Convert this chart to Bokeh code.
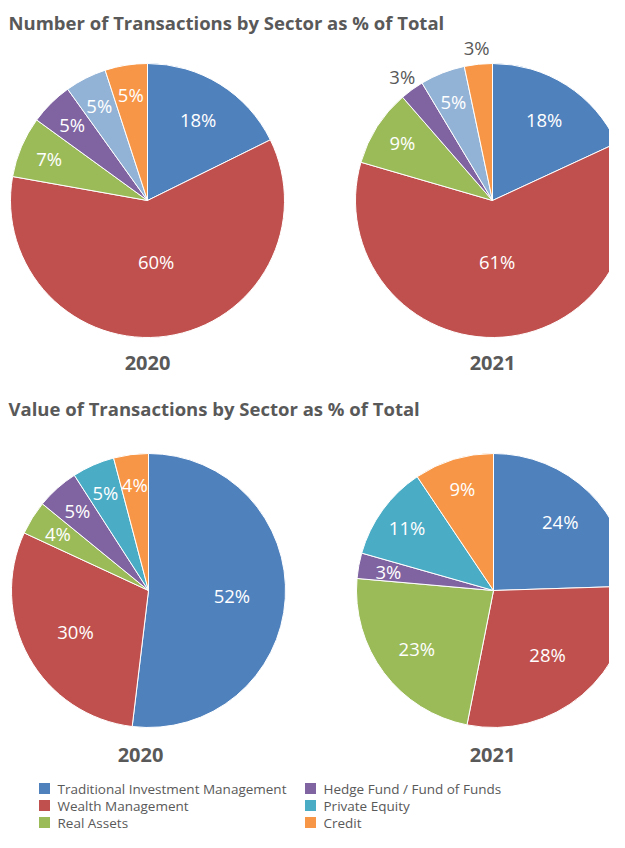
import math
from bokeh.plotting import figure
from bokeh.models import Range1d, ColumnDataSource
from bokeh.core.properties import value
from bokeh.embed import file_html
from bokeh.resources import INLINE

# ---------------- data ----------------
sectors = ["Traditional Investment Management", "Wealth Management", "Real Assets",
           "Hedge Fund / Fund of Funds", "Private Equity", "Credit"]
sector_colors = ["#4f81bd", "#c0504d", "#9bbb59", "#8064a2", "#4bacc6", "#f79646"]
count_colors = ["#4f81bd", "#c0504d", "#9bbb59", "#8064a2", "#93b3d6", "#f79646"]

count_2020 = [17.7, 60.1, 7.2, 5.1, 4.9, 5.0]
count_2020_labels = ["18%", "60%", "7%", "5%", "5%", "5%"]
count_2021 = [18.1, 61.4, 9.1, 2.8, 5.3, 3.3]
count_2021_labels = ["18%", "61%", "9%", "3%", "5%", "3%"]
count_2021_outside = [False, False, False, True, False, True]

value_2020 = [51.9, 30.0, 4.0, 5.0, 5.0, 4.1]
value_2020_labels = ["52%", "30%", "4%", "5%", "5%", "4%"]
value_2021 = [24.5, 28.6, 23.3, 3.0, 11.2, 9.4]
value_2021_labels = ["24%", "28%", "23%", "3%", "11%", "9%"]

title_top = "Number of Transactions by Sector as % of Total"
title_bottom = "Value of Transactions by Sector as % of Total"
years = ["2020", "2021"]

# ---------------- layout ----------------
W, H = 609, 832
FONT = "Open Sans"
GREY = "#595959"
R = 137


def X(px):
    return px


def Y(py):
    return H - py


p = figure(width=W, height=H, output_backend="svg", toolbar_location=None,
           x_range=Range1d(0, W), y_range=Range1d(0, H),
           x_axis_location=None, y_axis_location=None, min_border=0)
p.outline_line_color = None
p.grid.visible = False
p.background_fill_color = "white"


def label_frac(v):
    if v <= 12:
        return 0.78
    if v <= 25:
        return 0.70
    if v <= 55:
        return 0.61
    return 0.45


def draw_pie(cx, cy, vals, labels, colors, outside=None):
    total = sum(vals)
    starts, ends, lx, ly, tc = [], [], [], [], []
    cum = 0.0
    for i, v in enumerate(vals):
        c0 = cum / total
        cum += v
        c1 = cum / total
        starts.append(math.pi / 2 - 2 * math.pi * c1)
        ends.append(math.pi / 2 - 2 * math.pi * c0)
        mid = 2 * math.pi * (c0 + c1) / 2  # clockwise from top
        out = bool(outside and outside[i])
        rl = R * (1.12 if out else label_frac(100 * v / total))
        lx.append(cx + rl * math.sin(mid))
        ly.append(cy + rl * math.cos(mid))
        tc.append(GREY if out else "white")
    src = ColumnDataSource(dict(start=starts, end=ends, color=colors,
                                lx=lx, ly=ly, label=labels, tc=tc))
    p.wedge(x=cx, y=cy, radius=R, start_angle="start", end_angle="end",
            fill_color="color", line_color="white", line_width=1, source=src)
    p.text(x="lx", y="ly", text="label", text_color="tc", source=src,
           text_font=value(FONT), text_font_size="18.5px",
           text_align="center", text_baseline="middle")


draw_pie(X(147), Y(200), count_2020, count_2020_labels, count_colors)
draw_pie(X(492), Y(200), count_2021, count_2021_labels, count_colors, count_2021_outside)
draw_pie(X(148), Y(590), value_2020, value_2020_labels, sector_colors)
draw_pie(X(493), Y(590), value_2021, value_2021_labels, sector_colors)

# titles
p.text(x=[X(8), X(8)], y=[Y(22), Y(408)], text=[title_top, title_bottom],
       text_font=value(FONT), text_font_size="18.5px", text_font_style="bold",
       text_color=GREY, text_align="left", text_baseline="middle")

# year labels
p.text(x=[X(147), X(492), X(140), X(492)], y=[Y(362), Y(362), Y(754), Y(754)],
       text=years + years, text_font=value(FONT), text_font_size="20px",
       text_font_style="bold", text_color=GREY,
       text_align="center", text_baseline="middle")

# legend
col_x = [44, 310]
row_y = [788, 805, 822]
sq_x, sq_y, t_x = [], [], []
for i in range(len(sectors)):
    c = i // 3
    r = i % 3
    sq_x.append(X(col_x[c]))
    sq_y.append(Y(row_y[r]))
    t_x.append(X(col_x[c] + 13))
p.scatter(x=sq_x, y=sq_y, marker="square", size=11, fill_color=sector_colors,
          line_color=None)
p.text(x=t_x, y=sq_y, text=sectors, text_font=value(FONT), text_font_size="13.5px",
       text_color=GREY, text_align="left", text_baseline="middle")

open("out.html", "w").write(file_html(p, INLINE))
